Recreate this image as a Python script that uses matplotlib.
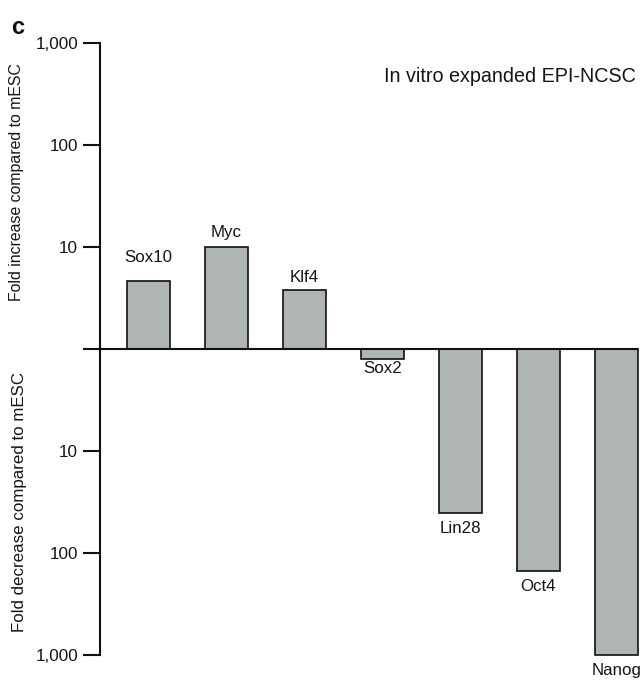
import numpy as np
import matplotlib
matplotlib.use("Agg")
import matplotlib.pyplot as plt

plt.rcParams['font.family'] = ['Liberation Sans', 'DejaVu Sans']

genes = ["Sox10", "Myc", "Klf4", "Sox2", "Lin28", "Oct4", "Nanog"]
fold_change = [4.6, 10.0, 3.75, 1.24, 40.0, 151.0, 1000.0]
direction = [1, 1, 1, -1, -1, -1, -1]   # +1 increase, -1 decrease vs mESC
tick_values = [-3, -2, -1, 0, 1, 2, 3]
tick_labels = ["1,000", "100", "10", "", "10", "100", "1,000"]
label_offsets_px = [24, 14, 13, 10, 16, 15, 15]

signed_log = np.array(direction) * np.log10(np.array(fold_change))
x = np.arange(len(genes))
width = 0.55

fig = plt.figure(figsize=(6.44, 6.8), dpi=100)
ax = fig.add_axes([100 / 644, 1 - 655.3 / 680, 540 / 644, (655.3 - 42.7) / 680])

ax.bar(x, signed_log, width=width, color='#afb4b4', edgecolor='#111111',
       linewidth=1.2, clip_on=False, zorder=2)

xl = (-0.62, 6.306)
ax.set_xlim(*xl)
ax.set_ylim(-3, 3)
ax.hlines(0, xl[0], x[-1] + width / 2, color='#111111', linewidth=1.5, zorder=3)

for s in ['top', 'right', 'bottom']:
    ax.spines[s].set_visible(False)
ax.spines['left'].set_linewidth(1.5)
ax.spines['left'].set_color('#111111')
ax.set_xticks([])
ax.set_yticks(tick_values)
ax.set_yticklabels(tick_labels, fontsize=12.3, color='#151515')
ax.tick_params(axis='y', length=12.2, width=1.5, pad=3.5, color='#111111')

for xi, yi, g, off in zip(x, signed_log, genes, label_offsets_px):
    sgn = 1 if yi >= 0 else -1
    ax.annotate(g, (xi, yi), xytext=(0, sgn * off * 0.72), textcoords='offset points',
                ha='center', va='center', fontsize=12.2, color='#151515',
                annotation_clip=False)

fig.text(636 / 644, 1 - 77 / 680, "In vitro expanded EPI-NCSC", ha='right', va='center',
         fontsize=14.2, color='#151515')
fig.text(17 / 644, 1 - 182.5 / 680, "Fold increase compared to mESC", rotation=90,
         ha='center', va='center', fontsize=11.4, color='#151515')
fig.text(20 / 644, 1 - 501.7 / 680, "Fold decrease compared to mESC", rotation=90,
         ha='center', va='center', fontsize=12.2, color='#151515')
fig.text(11 / 644, 1 - 27 / 680, "c", ha='left', va='center', fontsize=17,
         fontweight='bold', color='#111111')

fig.savefig("out.png", dpi=100)
